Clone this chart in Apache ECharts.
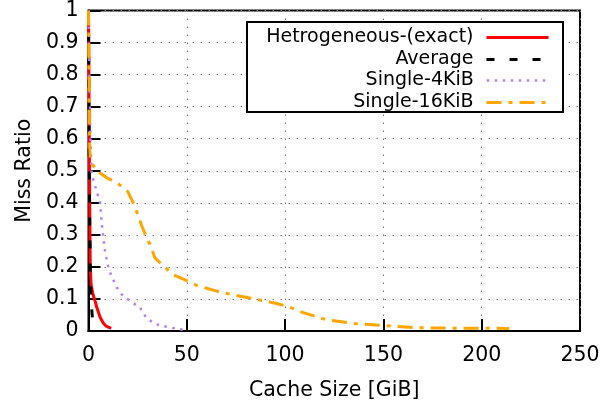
<!DOCTYPE html>
<html>
<head>
<meta charset="utf-8">
<script src="https://cdn.jsdelivr.net/npm/echarts@6/dist/echarts.min.js"></script>
<style>html,body{margin:0;padding:0;background:#fff;}#c{width:607px;height:406px;}</style>
</head>
<body>
<div id="c"></div>
<script>
// ---- data ----
var seriesNames = ['Hetrogeneous-(exact)', 'Average', 'Single-4KiB', 'Single-16KiB'];
var xTicks = [0, 50, 100, 150, 200, 250];
var yTicks = [0, 0.1, 0.2, 0.3, 0.4, 0.5, 0.6, 0.7, 0.8, 0.9, 1];

var hetX = [0, 0.3, 0.6, 0.9, 1.3, 2.3, 3.5, 4.2, 5.9, 7.5, 9, 11.5];
var hetY = [1, 0.7, 0.4, 0.2, 0.145, 0.114, 0.09, 0.074, 0.043, 0.025, 0.015, 0.008];

var avgX = [0, 0.3, 0.6, 0.9, 1.2, 1.6, 2.0, 2.3];
var avgY = [1, 0.6, 0.35, 0.2, 0.12, 0.07, 0.04, 0.02];

var s4X = [0, 0.5, 1, 1.5, 2.5, 4.2, 5.9, 6.4, 7, 7.4, 8.4, 9.3, 10.5, 11.8, 14.4, 16.9, 20, 23.7, 26.2, 27.7, 30.3, 33.8, 40.5, 48];
var s4Y = [1, 0.8, 0.6, 0.5, 0.47, 0.435, 0.40, 0.36, 0.32, 0.30, 0.25, 0.22, 0.19, 0.17, 0.136, 0.114, 0.099, 0.083, 0.074, 0.055, 0.037, 0.022, 0.012, 0.004];

var s16X = [0, 0.3, 0.5, 0.8, 2, 4.2, 9.3, 15, 20, 22.7, 24.5, 27, 29.6, 31.3, 33.8, 37.9, 43, 50, 55, 67.8, 82, 95.7, 102.5, 108.4, 121, 135.5, 149.8, 167, 184, 214];
var s16Y = [1, 0.8, 0.6, 0.54, 0.52, 0.50, 0.478, 0.46, 0.435, 0.40, 0.373, 0.33, 0.29, 0.27, 0.228, 0.204, 0.176, 0.157, 0.142, 0.12, 0.103, 0.086, 0.074, 0.059, 0.035, 0.023, 0.017, 0.01, 0.009, 0.008];

function zip(xs, ys) { return xs.map(function (x, i) { return [x, ys[i]]; }); }

var FONT = 'DejaVu Sans';
var chart = echarts.init(document.getElementById('c'), null, { renderer: 'canvas' });

var seriesStyles = [
  { color: '#ff0000', width: 3, type: 'solid' },
  { color: '#000000', width: 3, type: [8, 15] },
  { color: '#b77cf5', width: 2.5, type: [2.5, 5.5] },
  { color: '#ffa500', width: 3, type: [15, 7, 4, 7] }
];
var datas = [zip(hetX, hetY), zip(avgX, avgY), zip(s4X, s4Y), zip(s16X, s16Y)];

var series = seriesNames.map(function (n, i) {
  var st = seriesStyles[i];
  return {
    name: n, type: 'line', data: datas[i], symbol: 'none', smooth: false,
    lineStyle: { color: st.color, width: st.width, type: st.type, cap: 'butt' },
    itemStyle: { color: st.color },
    z: 3 + i, animation: false
  };
});

var rowY = [35, 57, 78, 100];
var legends = seriesNames.map(function (n, i) {
  var st = seriesStyles[i];
  return {
    show: true, data: [n], orient: 'horizontal', align: 'right',
    right: 57, top: rowY[i] - 7, itemWidth: 62, itemHeight: 14,
    textStyle: { fontFamily: FONT, fontSize: 19, color: '#000', padding: [0, 8, 0, 0] },
    itemStyle: { opacity: 0 },
    lineStyle: { color: st.color, width: st.width, type: st.type, opacity: 1, cap: 'butt' },
    selectedMode: false, padding: 0, z: 60
  };
});

chart.setOption({
  animation: false,
  backgroundColor: '#fff',
  grid: { left: 88.5, right: 27, top: 10, bottom: 72, show: true, borderColor: '#000', borderWidth: 2, backgroundColor: 'transparent' },
  xAxis: {
    type: 'value', min: 0, max: 250, interval: 50,
    name: 'Cache Size [GiB]', nameLocation: 'middle', nameGap: 49,
    nameTextStyle: { fontFamily: FONT, fontSize: 20.5, color: '#000' },
    axisLine: { show: true, lineStyle: { color: '#000', width: 2 } },
    axisTick: { show: true, inside: true, length: 12, lineStyle: { color: '#000', width: 2 } },
    axisLabel: { fontFamily: FONT, fontSize: 20.5, color: '#000', margin: 14 },
    splitLine: { show: true, lineStyle: { color: '#777', width: 1, type: [1.5, 6.5] } }
  },
  yAxis: {
    type: 'value', min: 0, max: 1, interval: 0.1,
    name: 'Miss Ratio', nameLocation: 'middle', nameGap: 53, nameRotate: 90,
    nameTextStyle: { fontFamily: FONT, fontSize: 20.5, color: '#000' },
    axisLine: { show: true, lineStyle: { color: '#000', width: 2 } },
    axisTick: { show: true, inside: true, length: 12, lineStyle: { color: '#000', width: 2 } },
    axisLabel: { fontFamily: FONT, fontSize: 20.5, color: '#000', margin: 10 },
    splitLine: { show: true, lineStyle: { color: '#777', width: 1, type: [1.5, 6.5] } }
  },
  legend: legends,
  graphic: [{
    type: 'rect', shape: { x: 247, y: 22, width: 316, height: 90 },
    style: { fill: '#fff', stroke: '#000', lineWidth: 2 }, z: 40
  }],
  series: series
});
</script>
</body>
</html>
